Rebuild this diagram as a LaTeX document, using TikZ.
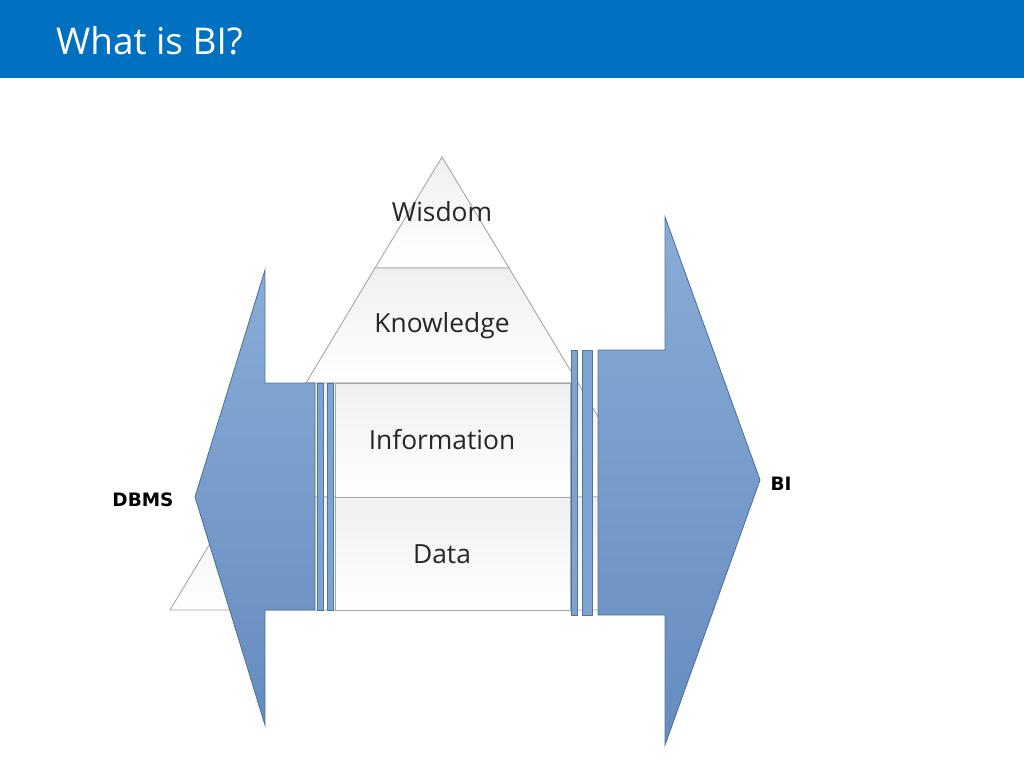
\documentclass[tikz,border=0pt]{standalone}
\usepackage{fontspec}
\setmainfont{Open Sans}
\newfontfamily\boldf{DejaVu Sans}
\definecolor{titleblue}{RGB}{0,112,192}
\definecolor{arrowfill}{RGB}{124,163,210}
\definecolor{arrowdark}{RGB}{100,140,190}
\definecolor{arrowedge}{RGB}{80,115,160}
\begin{document}
\begin{tikzpicture}[x=0.02cm,y=-0.02cm,
  layer/.style={draw=gray!70,top color=gray!12,bottom color=white,line width=0.5pt},
  barrow/.style={draw=arrowedge,top color=arrowfill!90!white,bottom color=arrowdark,line width=0.5pt},
  bar/.style={draw=arrowedge,fill=arrowfill,line width=0.4pt},
  lbl/.style={font=\fontsize{15}{18}\selectfont,text=black!85},
  side/.style={font=\boldf\bfseries\fontsize{10.5}{12}\selectfont}]
\useasboundingbox (0,0) rectangle (1024,768);
\fill[titleblue] (0,0) rectangle (1024,78);
\node[anchor=west,text=white,font=\fontsize{21}{24}\selectfont] (title) at (50,41) {What is BI?};
% pyramid
\path[layer] (442,157) -- (509,268) -- (375,268) -- cycle;
\path[layer] (375,268) -- (509,268) -- (578,383) -- (306,383) -- cycle;
\path[layer] (306,383) -- (578,383) -- (646,497) -- (238,497) -- cycle;
\path[layer] (238,497) -- (646,497) -- (714,610) -- (170,610) -- cycle;
\path[layer] (335,383) rectangle (570,497);
\path[layer] (335,497) rectangle (570,610);
% left arrow
\path[barrow] (195,497) -- (265,270) -- (265,383) -- (315,383) -- (315,610) -- (265,610) -- (265,725) -- cycle;
\path[bar] (317,383) rectangle (323,610);
\path[bar] (327,383) rectangle (333,610);
% right arrow
\path[barrow] (760,480) -- (665,217) -- (665,350) -- (598,350) -- (598,615) -- (665,615) -- (665,745) -- cycle;
\path[bar] (571,350) rectangle (577,615);
\path[bar] (582,350) rectangle (592,615);
% labels
\node[lbl] (wis) at (442,212) {Wisdom};
\node[lbl] (kno) at (442,326) {Knowledge};
\node[lbl] (inf) at (442,440) {Information};
\node[lbl] (dat) at (442,554) {Data};
\node[side] (dbms) at (143,500) {DBMS};
\node[side] (bi) at (781,484) {BI};
\end{tikzpicture}
\end{document}
